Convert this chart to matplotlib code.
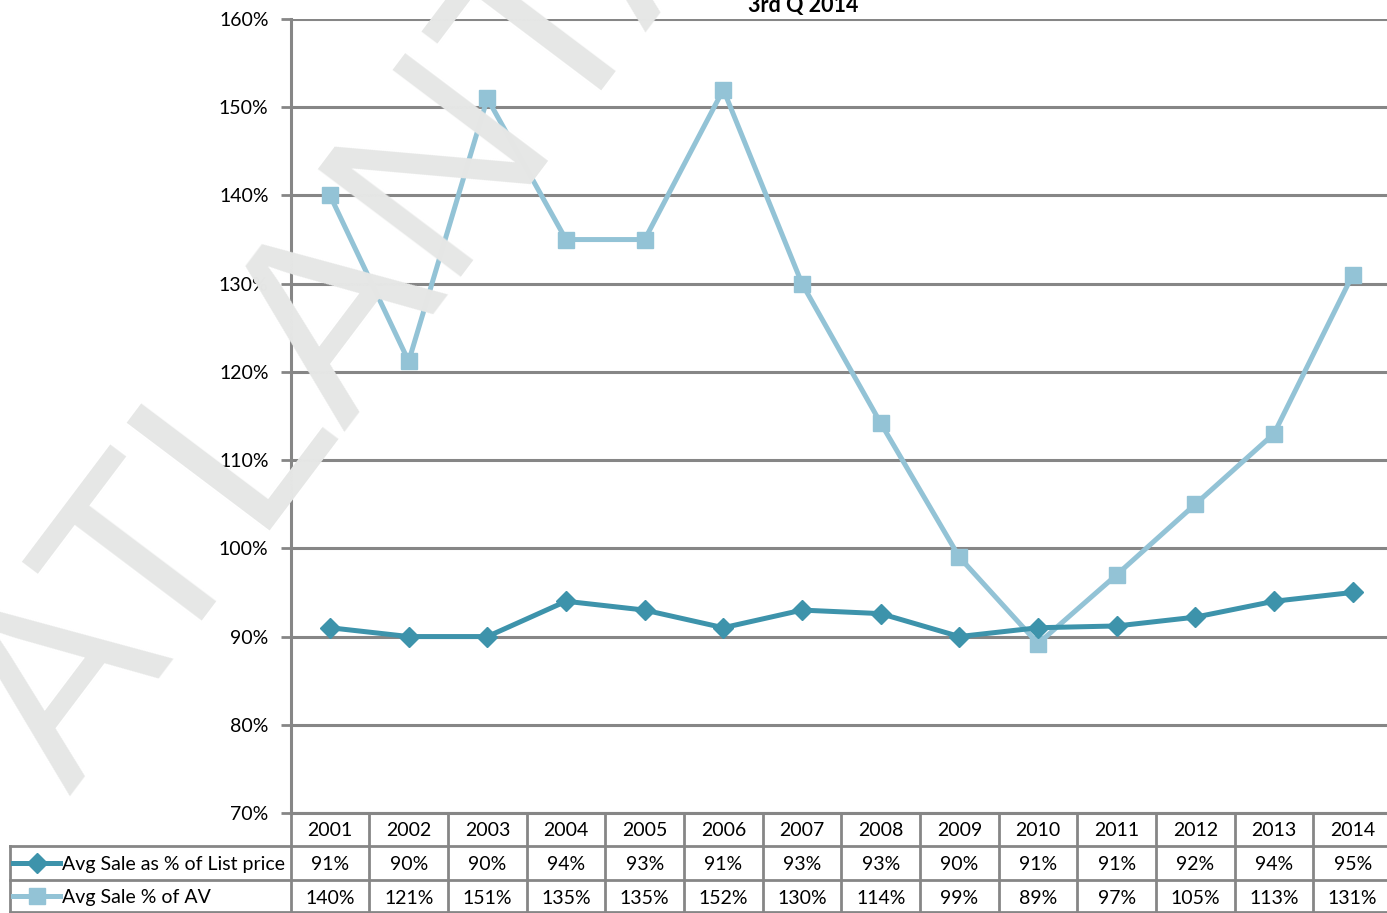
import matplotlib
matplotlib.use("Agg")
import matplotlib.pyplot as plt
import matplotlib.transforms as mtransforms
from matplotlib.lines import Line2D

# data
years = [2001, 2002, 2003, 2004, 2005, 2006, 2007, 2008, 2009, 2010, 2011, 2012, 2013, 2014]
list_pct = [91, 90, 90, 94, 93, 91, 93, 92.6, 90, 91, 91.2, 92.2, 94, 95]
av_pct = [140, 121.2, 151, 135, 135, 152, 130, 114.2, 99, 89.2, 97, 105, 113, 131]
series_names = ["Avg Sale as % of List price", "Avg Sale % of AV"]
yticks = [70, 80, 90, 100, 110, 120, 130, 140, 150, 160]
title = "3rd Q 2014"
watermark = "ATLANTA"

plt.rcParams['font.family'] = ['Lato', 'DejaVu Sans']

W, H = 1387, 913
fig = plt.figure(figsize=(W / 100, H / 100), dpi=100)
ax = fig.add_axes([290.7 / W, 1 - 813 / H, 1101.3 / W, 794 / H])

c_list = '#3d93ab'
c_av = '#93c3d6'
grey = '#868686'
fs = 14

x = list(range(len(years)))
ax.plot(x, av_pct, color=c_av, lw=3.6, marker='s', ms=12, zorder=3)
ax.plot(x, list_pct, color=c_list, lw=3.6, marker='D', ms=10, zorder=4)

ax.set_xlim(-0.5, len(years) - 0.5)
ax.set_ylim(70, 160)
ax.set_yticks(yticks)
ax.set_yticklabels([f"{v}%" for v in yticks])
ax.set_xticks([])
ax.grid(axis='y', color=grey, lw=2.2)
ax.set_axisbelow(True)
for s in ['top', 'right']:
    ax.spines[s].set_visible(False)
for s in ['left', 'bottom']:
    ax.spines[s].set_color(grey)
    ax.spines[s].set_linewidth(2.2)
ax.tick_params(axis='y', length=7, width=2, color=grey, pad=9, labelsize=fs)

# data table under the plot
def af(py):
    return (813 - py) / 794

tr = mtransforms.blended_transform_factory(ax.transData, ax.transAxes)
trf = mtransforms.blended_transform_factory(fig.transFigure, ax.transAxes)

for i in range(len(years) + 1):
    ax.plot([i - 0.5, i - 0.5], [0, af(913)], color=grey, lw=2, transform=tr, clip_on=False)
for py in [846, 880, 912]:
    ax.plot([10 / W, 1], [af(py), af(py)], color=grey, lw=2, transform=trf, clip_on=False)
ax.plot([10 / W, 10 / W], [af(846), af(913)], color=grey, lw=2, transform=trf, clip_on=False)

for i, yr in enumerate(years):
    ax.text(i, af(830), str(yr), ha='center', va='center', fontsize=fs, transform=tr)
    ax.text(i, af(864), f"{list_pct[i]:.0f}%", ha='center', va='center', fontsize=fs, transform=tr)
    ax.text(i, af(898), f"{av_pct[i]:.0f}%", ha='center', va='center', fontsize=fs, transform=tr)

for py, name, col, mk, ms in [(863, series_names[0], c_list, 'D', 10), (896, series_names[1], c_av, 's', 12)]:
    fig.add_artist(Line2D([13 / W, 60 / W], [1 - py / H, 1 - py / H], color=col, lw=3.6,
                          transform=fig.transFigure))
    fig.add_artist(Line2D([37 / W], [1 - py / H], color=col, marker=mk, ms=ms,
                          transform=fig.transFigure))
    fig.text(62 / W, 1 - (py + 1) / H, name, ha='left', va='center', fontsize=fs)

fig.text(803 / W, 1 - 12 / H, title, ha='center', va='baseline', fontsize=15.5, fontweight='bold')

fig.text(69 / W, 1 - 796 / H, watermark, rotation=53, rotation_mode='anchor', ha='left',
         va='baseline', fontsize=187, color='#e6e7e6', family='Liberation Sans', zorder=10)

fig.savefig('out.png', dpi=100)
